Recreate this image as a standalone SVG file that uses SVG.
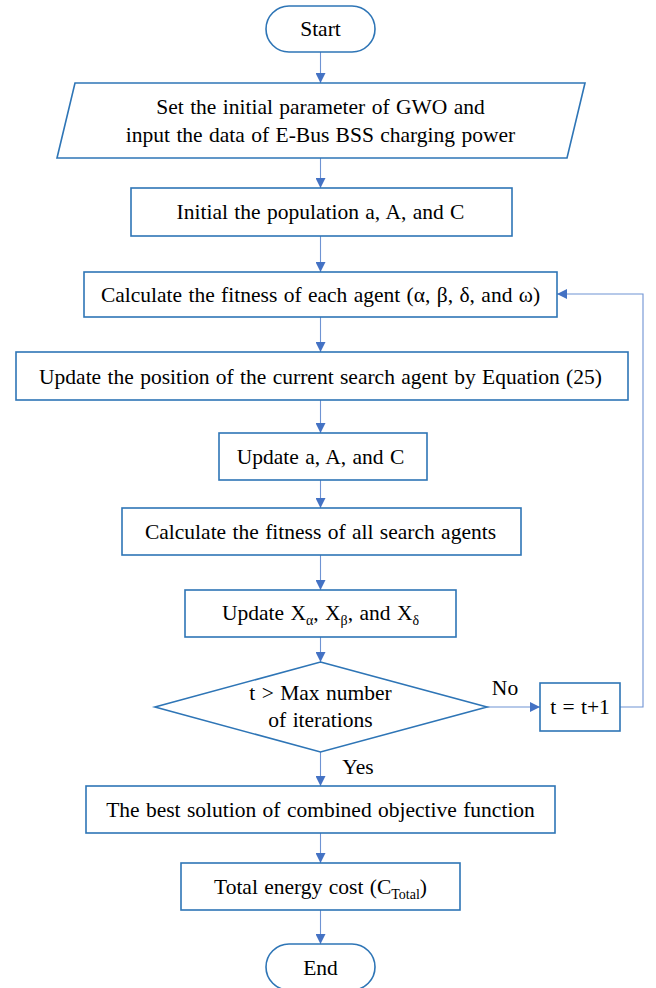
<svg xmlns="http://www.w3.org/2000/svg" width="656" height="988" viewBox="0 0 656 988">
<style>
.n{fill:#fff;stroke:#2E75B6;stroke-width:1.6}
.t{font-family:"Liberation Serif","Times New Roman",serif;font-size:21.5px;fill:#000;text-anchor:middle;word-spacing:1px}
.c{fill:none;stroke:#6F93D3;stroke-width:1.1}
.s{font-size:14px}
</style>
<defs>
<marker id="ah" viewBox="0 0 10 10" refX="10" refY="5" markerWidth="10" markerHeight="10" markerUnits="userSpaceOnUse" orient="auto">
<path d="M0,0 L10,5 L0,10 Z" fill="#4472C4"/>
</marker>
</defs>
<rect width="656" height="988" fill="#fff"/>
<g id="connectors">
<line class="c" x1="320.5" y1="52" x2="320.5" y2="83" marker-end="url(#ah)"/>
<line class="c" x1="320.5" y1="158" x2="320.5" y2="188" marker-end="url(#ah)"/>
<line class="c" x1="320.5" y1="236" x2="320.5" y2="272" marker-end="url(#ah)"/>
<line class="c" x1="320.5" y1="317" x2="320.5" y2="352" marker-end="url(#ah)"/>
<line class="c" x1="320.5" y1="400" x2="320.5" y2="433" marker-end="url(#ah)"/>
<line class="c" x1="320.5" y1="480" x2="320.5" y2="508" marker-end="url(#ah)"/>
<line class="c" x1="320.5" y1="555" x2="320.5" y2="590" marker-end="url(#ah)"/>
<line class="c" x1="320.5" y1="637" x2="320.5" y2="662" marker-end="url(#ah)"/>
<line class="c" x1="487" y1="707" x2="540" y2="707" marker-end="url(#ah)"/>
<polyline class="c" points="620,707 643,707 643,294 557,294" marker-end="url(#ah)"/>
<line class="c" x1="320.5" y1="752" x2="320.5" y2="786" marker-end="url(#ah)"/>
<line class="c" x1="320.5" y1="833" x2="320.5" y2="863" marker-end="url(#ah)"/>
<line class="c" x1="320.5" y1="910" x2="320.5" y2="944" marker-end="url(#ah)"/>
<text class="t" x="505" y="695">No</text>
<text class="t" x="358" y="774">Yes</text>
</g>
<g id="start">
<rect class="n" x="266" y="6" width="109" height="46" rx="23"/>
<text class="t" x="320.5" y="36">Start</text>
</g>
<g id="input">
<polygon class="n" points="75,83 585,83 567,158 57,158"/>
<text class="t" x="320.5" y="114">Set the initial parameter of GWO and</text>
<text class="t" x="320.5" y="142">input the data of E-Bus BSS charging power</text>
</g>
<g id="init">
<rect class="n" x="131" y="188" width="381" height="48"/>
<text class="t" x="320.5" y="219">Initial the population a, A, and C</text>
</g>
<g id="fitness-each">
<rect class="n" x="84" y="272" width="473" height="45"/>
<text class="t" x="320.5" y="302">Calculate the fitness of each agent (α, β, δ, and ω)</text>
</g>
<g id="update-position">
<rect class="n" x="16" y="352" width="612" height="48"/>
<text class="t" x="320.5" y="384">Update the position of the current search agent by Equation (25)</text>
</g>
<g id="update-aac">
<rect class="n" x="219" y="433" width="208" height="47"/>
<text class="t" x="320.5" y="464">Update a, A, and C</text>
</g>
<g id="fitness-all">
<rect class="n" x="122" y="508" width="399" height="47"/>
<text class="t" x="320.5" y="539">Calculate the fitness of all search agents</text>
</g>
<g id="update-x">
<rect class="n" x="185" y="590" width="271" height="47"/>
<text class="t" x="320.5" y="620">Update X<tspan class="s" dy="5">α</tspan><tspan dy="-5">, X</tspan><tspan class="s" dy="5">β</tspan><tspan dy="-5">, and X</tspan><tspan class="s" dy="5">δ</tspan></text>
</g>
<g id="decision">
<polygon class="n" points="320.5,662 487,707 320.5,752 155,707"/>
<text class="t" x="320.5" y="700">t &gt; Max number</text>
<text class="t" x="320.5" y="727">of iterations</text>
</g>
<g id="increment">
<rect class="n" x="540" y="683" width="80" height="48"/>
<text class="t" x="580" y="714">t = t+1</text>
</g>
<g id="best">
<rect class="n" x="86" y="786" width="469" height="47"/>
<text class="t" x="320.5" y="817">The best solution of combined objective function</text>
</g>
<g id="total">
<rect class="n" x="181" y="863" width="279" height="47"/>
<text class="t" x="320.5" y="894">Total energy cost (C<tspan class="s" dy="5">Total</tspan><tspan dy="-5">)</tspan></text>
</g>
<g id="end">
<rect class="n" x="266" y="944" width="109" height="46" rx="23"/>
<text class="t" x="320.5" y="975">End</text>
</g>
</svg>
